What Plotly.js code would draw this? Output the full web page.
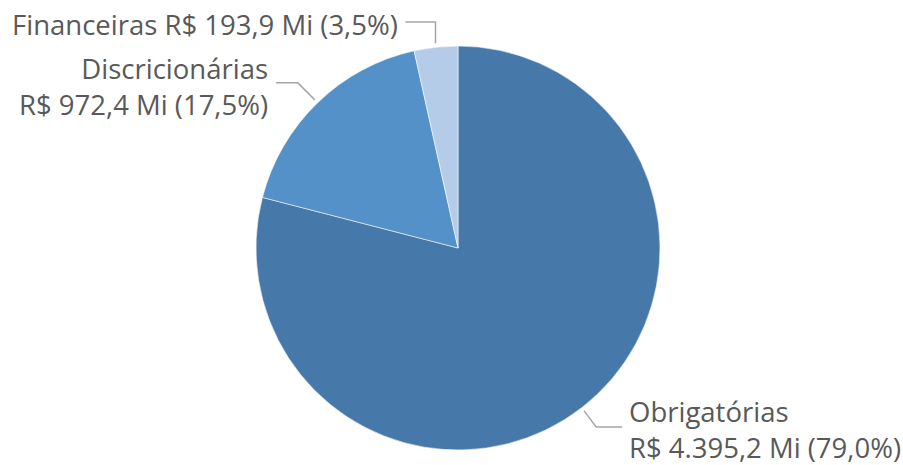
<!DOCTYPE html>
<html><head><meta charset="utf-8">
<script src="https://cdn.plot.ly/plotly-3.0.1.min.js"></script>
<style>html,body{margin:0;padding:0;background:#fff}</style>
</head><body><div id="chart" style="width:903px;height:465px"></div>
<script>
const categories = ["Obrigatórias", "Discricionárias", "Financeiras"];
const values = [4395.2, 972.4, 193.9];
const colors = ["#4679A9", "#5391C8", "#B5CCE8"];

const W = 903, H = 465;
const cx = 458, cy = 248, R = 202;
const FONT = "Segoe UI, Open Sans, sans-serif";

function br(n, d) {
  const s = n.toFixed(d).split(".");
  const int = s[0].replace(/\B(?=(\d{3})+(?!\d))/g, ".");
  return s[1] ? int + "," + s[1] : int;
}
const total = values.reduce((a, b) => a + b, 0);
const pct = values.map(v => v / total * 100);

const labelTexts = categories.map((c, i) => ({
  name: c,
  val: "R$ " + br(values[i], 1) + " Mi (" + br(pct[i], 1) + "%)"
}));

const px = x => x / W, py = y => 1 - y / H;

let cum = 0;
const mids = values.map(v => { const a = (cum + v / 2) / total * 2 * Math.PI; cum += v; return a; });
function edge(i, off) {
  const a = mids[i];
  return [cx + (R + off) * Math.sin(a), cy - (R + off) * Math.cos(a)];
}

const annotations = [];
const shapes = [];
const lineStyle = {color: "#A6A6A6", width: 1.5};

// Obrigatórias (bottom right)
{
  const [x0, y0] = edge(0, 4);
  const x1 = x0 + 12, y1 = y0 + 16, x2 = x1 + 26;
  shapes.push({type: "path", xref: "paper", yref: "paper",
    path: `M${px(x0)},${py(y0)} L${px(x1)},${py(y1)} L${px(x2)},${py(y1)}`, line: lineStyle});
  annotations.push({x: px(x2 + 5), y: py(y1 + 3), xanchor: "left", yanchor: "middle", align: "left",
    text: labelTexts[0].name + "<br>" + labelTexts[0].val});
}
// Discricionárias (upper left)
{
  const [x0, y0] = edge(1, 4);
  const x1 = x0 - 17, y1 = y0 - 17, x2 = x1 - 22;
  shapes.push({type: "path", xref: "paper", yref: "paper",
    path: `M${px(x0)},${py(y0)} L${px(x1)},${py(y1)} L${px(x2)},${py(y1)}`, line: lineStyle});
  annotations.push({x: px(x2 - 6), y: py(y1 + 4), xanchor: "right", yanchor: "middle", align: "right",
    text: labelTexts[1].name + "<br>" + labelTexts[1].val});
}
// Financeiras (top)
{
  const [x0, y0] = edge(2, 4);
  const y1 = 22, x2 = x0 - 30;
  shapes.push({type: "path", xref: "paper", yref: "paper",
    path: `M${px(x0)},${py(y0)} L${px(x0)},${py(y1)} L${px(x2)},${py(y1)}`, line: lineStyle});
  annotations.push({x: px(x2 - 5), y: py(y1 + 2), xanchor: "right", yanchor: "middle", align: "right",
    text: labelTexts[2].name + " " + labelTexts[2].val});
}
annotations.forEach(a => { a.xref = "paper"; a.yref = "paper"; a.showarrow = false;
  a.font = {family: FONT, size: 27.5, color: "#595959"}; });

const trace = {
  type: "pie",
  labels: categories,
  values: values,
  sort: false,
  direction: "clockwise",
  rotation: 0,
  textinfo: "none",
  hoverinfo: "label+value+percent",
  marker: {colors: colors, line: {color: "rgba(255,255,255,0.55)", width: 1}},
  domain: {x: [(cx - R) / W, (cx + R) / W], y: [(H - cy - R) / H, (H - cy + R) / H]},
  showlegend: false
};

Plotly.newPlot("chart", [trace], {
  width: W, height: H,
  margin: {l: 0, r: 0, t: 0, b: 0},
  paper_bgcolor: "#fff",
  showlegend: false,
  annotations: annotations,
  shapes: shapes
}, {displayModeBar: false, staticPlot: true});
</script></body></html>
